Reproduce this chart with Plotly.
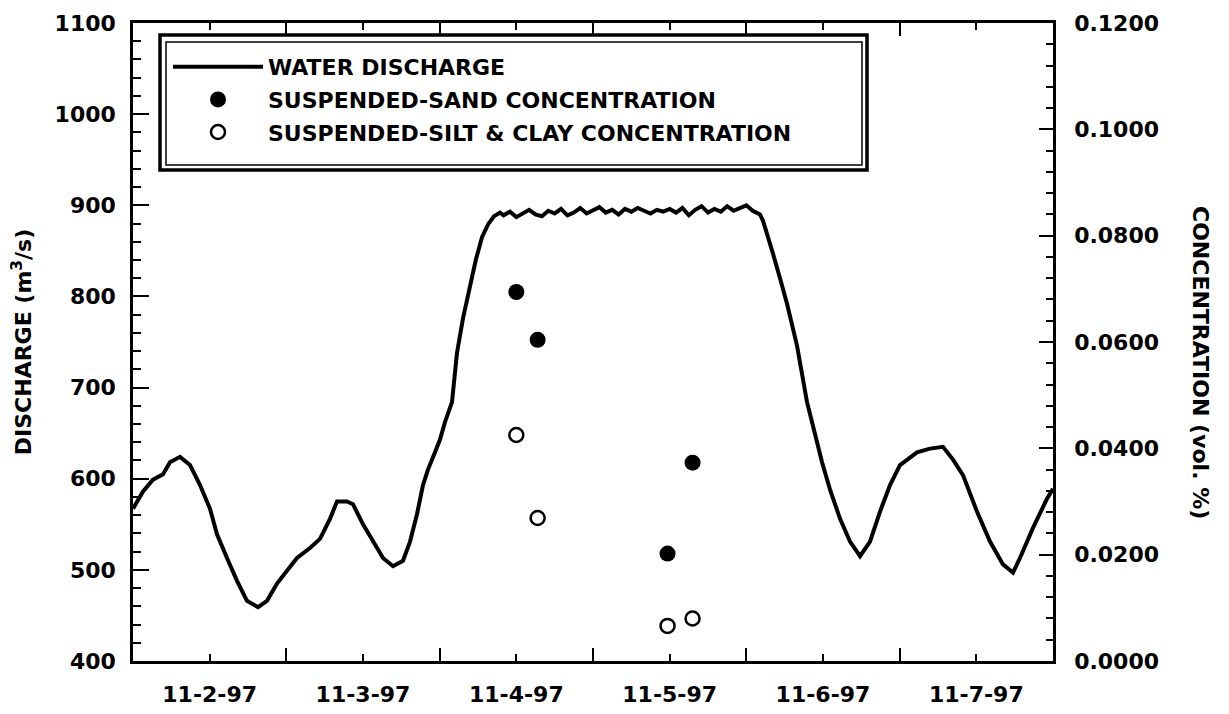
import pandas as pd
import plotly.graph_objects as go

# ---- data ----
START = pd.Timestamp("1997-11-02 00:00")

# water discharge: hours since 11-2-97 00:00 and discharge (m3/s)
q_hours = [0.0, 1.57, 3.13, 4.70, 5.79, 7.36, 8.92, 10.49, 12.05, 13.15, 14.71, 16.28,
           17.84, 19.57, 20.97, 22.54, 24.10, 25.67, 27.70, 29.27, 30.83, 31.93, 33.49,
           34.43, 36.00, 37.56, 39.13, 40.70, 42.26, 43.36, 44.45, 45.39, 46.17, 47.27,
           48.05, 48.83, 49.93, 50.71, 51.65, 52.75, 53.69, 54.63, 55.57, 56.50, 57.44,
           58, 59, 60, 61, 62, 63, 64, 65, 66, 67, 68, 69, 70, 71, 72, 73, 74, 75, 76,
           77, 78, 79, 80, 81, 82, 83, 84, 85, 86, 87, 88, 89, 90, 91, 92, 93, 94, 95,
           96, 97, 98.14, 98.61, 99.39, 100.17, 101.27, 102.37, 103.93, 105.50, 106.75,
           107.85, 109.10, 110.67, 112.23, 113.80, 115.36, 116.93, 118.49, 120.05,
           122.71, 124.75, 126.78, 128.35, 129.91, 132.10, 134.14, 136.17, 137.74,
           138.83, 140.87, 143.06, 144.0]
discharge = [567, 586, 599, 605, 618, 624, 615, 593, 567, 539, 513, 488,
             466, 459, 466, 485, 499, 513, 524, 534, 556, 575, 575,
             572, 550, 531, 513, 504, 510, 531, 561, 593, 610, 629,
             643, 662, 684, 738, 776, 811, 841, 865, 879, 888, 892,
             889, 893, 887, 891, 895, 890, 888, 894, 891, 896, 889, 892, 897, 891, 894,
             898, 892, 895, 890, 896, 893, 897, 894, 891, 895, 893, 896, 892, 897, 889,
             895, 899, 892, 896, 893, 899, 894, 897, 900, 894,
             890, 883, 866, 847, 820, 792, 746, 684, 649,
             618, 588, 556, 531, 515, 531, 564, 593, 615,
             629, 633, 635, 621, 604, 564, 531, 506, 497,
             513, 546, 578, 589]

# suspended-sediment samples
sand_times = ["1997-11-04 12:00", "1997-11-04 15:20", "1997-11-05 11:40", "1997-11-05 15:35"]
sand_conc = [0.0694, 0.0604, 0.0202, 0.0373]
silt_times = ["1997-11-04 12:00", "1997-11-04 15:20", "1997-11-05 11:40", "1997-11-05 15:35"]
silt_conc = [0.0425, 0.0269, 0.0066, 0.0080]

# axis ticks
day_labels = ["11-2-97", "11-3-97", "11-4-97", "11-5-97", "11-6-97", "11-7-97"]
day_noons = ["1997-11-02 12:00", "1997-11-03 12:00", "1997-11-04 12:00",
             "1997-11-05 12:00", "1997-11-06 12:00", "1997-11-07 12:00"]
day_starts = ["1997-11-03", "1997-11-04", "1997-11-05", "1997-11-06", "1997-11-07"]

q_times = [START + pd.Timedelta(hours=h) for h in q_hours]

FONT = dict(family="DejaVu Sans", size=22, color="black", weight="bold")

fig = go.Figure()
fig.add_trace(go.Scatter(x=q_times, y=discharge, mode="lines", name="WATER DISCHARGE",
                         line=dict(color="black", width=4), legendgroup="a"))
fig.add_trace(go.Scatter(x=sand_times, y=sand_conc, mode="markers", yaxis="y2",
                         name="SUSPENDED-SAND CONCENTRATION", legendgroup="b",
                         marker=dict(size=16, color="black", symbol="circle")))
fig.add_trace(go.Scatter(x=silt_times, y=silt_conc, mode="markers", yaxis="y2",
                         name="SUSPENDED-SILT & CLAY CONCENTRATION", legendgroup="c",
                         marker=dict(size=14, color="white", symbol="circle",
                                     line=dict(color="black", width=2.5))))

W, H = 1229, 714
OFF = 8  # page offset of the figure inside the browser window
L, R, T, B = 133 - OFF, 1053 - OFF, 23 - OFF, 661 - OFF
def px(x):
    return (x - OFF - L) / (R - L)
def py(y):
    return (B - (y - OFF)) / (B - T)

fig.update_layout(
    width=W, height=H,
    margin=dict(l=L, r=W - R, t=T, b=H - B, autoexpand=False),
    paper_bgcolor="white", plot_bgcolor="white",
    font=FONT,
    showlegend=True,
    legend=dict(x=px(168), y=py(46), xanchor="left", yanchor="top",
                bgcolor="rgba(0,0,0,0)", borderwidth=0, itemwidth=90,
                font=FONT, tracegroupgap=1),
    xaxis=dict(range=["1997-11-02", "1997-11-08"], tickmode="array",
               tickvals=day_noons, ticktext=day_labels, ticks="inside", ticklen=7,
               tickwidth=2, tickcolor="black", showline=True, linecolor="black",
               linewidth=2.5, mirror="ticks", showgrid=False, zeroline=False,
               ticklabelstandoff=12, tickfont=FONT, automargin=False,
               minor=dict(tickmode="array", tickvals=day_starts, ticks="inside",
                          ticklen=13, tickwidth=2, tickcolor="black", showgrid=False)),
    yaxis=dict(range=[400, 1100], dtick=100, ticks="inside", ticklen=16, tickwidth=2,
               tickcolor="black", showline=True, linecolor="black", linewidth=2.5,
               showgrid=False, zeroline=False, tickfont=FONT, ticklabelstandoff=10,
               automargin=False,
               title=dict(text="DISCHARGE (m<sup>3</sup>/s)", font=FONT, standoff=20),
               minor=dict(dtick=20, ticks="inside", ticklen=8, tickwidth=2,
                          tickcolor="black", showgrid=False)),
    yaxis2=dict(range=[0, 0.12], dtick=0.02, tickformat=".4f", overlaying="y",
                side="right", ticks="inside", ticklen=14, tickwidth=2, tickcolor="black",
                showline=True, linecolor="black", linewidth=2.5, showgrid=False,
                zeroline=False, tickfont=FONT, ticklabelstandoff=14, automargin=False,
                minor=dict(dtick=0.004, ticks="inside", ticklen=7, tickwidth=2,
                           tickcolor="black", showgrid=False)),
    shapes=[
        dict(type="rect", xref="paper", yref="paper", x0=px(160), x1=px(867),
             y0=py(170), y1=py(35), line=dict(color="black", width=3.5)),
        dict(type="rect", xref="paper", yref="paper", x0=px(166), x1=px(862),
             y0=py(165), y1=py(42), line=dict(color="black", width=1.5)),
    ],
    annotations=[
        dict(text="CONCENTRATION (vol. %)", xref="paper", yref="paper",
             x=px(1200), y=py(362), textangle=90, showarrow=False, font=FONT,
             xanchor="center", yanchor="middle"),
    ],
)

fig.write_html("out.html")
